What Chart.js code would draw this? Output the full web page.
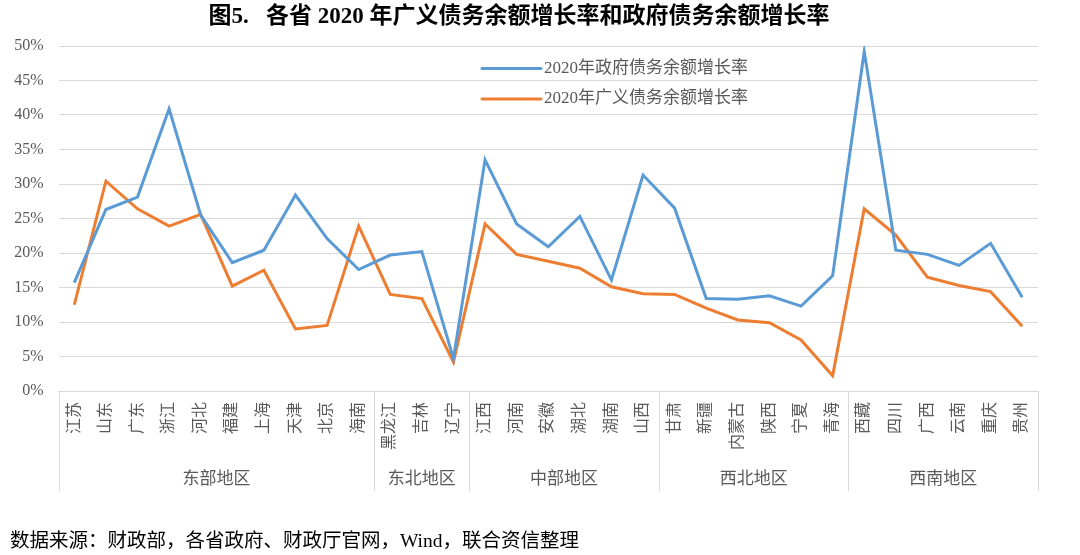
<!DOCTYPE html>
<html>
<head>
<meta charset="utf-8">
<script src="https://cdn.jsdelivr.net/npm/chart.js@4.4.1/dist/chart.umd.min.js"></script>
<style>
html,body{margin:0;padding:0;background:#fff;}
#wrap{width:1080px;height:555px;}
</style>
</head>
<body>
<div id="wrap"><canvas id="c" width="1080" height="555"></canvas></div>
<script>
const titleText = '图5.   各省 2020 年广义债务余额增长率和政府债务余额增长率';
const sourceText = '数据来源：财政部，各省政府、财政厅官网，Wind，联合资信整理';

const provinces = ['江苏','山东','广东','浙江','河北','福建','上海','天津','北京','海南',
  '黑龙江','吉林','辽宁',
  '江西','河南','安徽','湖北','湖南','山西',
  '甘肃','新疆','内蒙古','陕西','宁夏','青海',
  '西藏','四川','广西','云南','重庆','贵州'];

const regionNames = ['东部地区','东北地区','中部地区','西北地区','西南地区'];
const regionSizes = [10, 3, 6, 6, 6];

const seriesNames = ['2020年政府债务余额增长率', '2020年广义债务余额增长率'];

const govGrowth = [15.7, 26.3, 28.1, 40.9, 25.5, 18.6, 20.4, 28.4, 22.1, 17.6,
  19.7, 20.2, 4.7,
  33.5, 24.2, 20.9, 25.3, 16.1, 31.3,
  26.5, 13.4, 13.3, 13.8, 12.3, 16.7,
  49.2, 20.4, 19.8, 18.2, 21.4, 13.6];

const broadGrowth = [12.5, 30.4, 26.4, 23.9, 25.6, 15.2, 17.5, 9.0, 9.5, 23.9,
  14.0, 13.4, 4.2,
  24.2, 19.8, 18.8, 17.8, 15.1, 14.1,
  14.0, 12.0, 10.3, 9.9, 7.4, 2.2,
  26.4, 22.6, 16.5, 15.3, 14.4, 9.4];

const yTicks = [0, 5, 10, 15, 20, 25, 30, 35, 40, 45, 50];

const SERIF = "'Liberation Serif', 'Noto Sans CJK SC', serif";
const GRAY = '#595959';
const GRID = '#d9d9d9';

const groupPlugin = {
  id: 'groups',
  afterDraw(chart) {
    const ctx = chart.ctx;
    const x = chart.scales.x;
    const area = chart.chartArea;
    const top = area.bottom;
    const bottom = area.bottom + 100;
    const half = (x.getPixelForValue(1) - x.getPixelForValue(0)) / 2;
    ctx.save();
    ctx.strokeStyle = GRID;
    ctx.lineWidth = 1;
    let idx = 0;
    const bounds = [x.getPixelForValue(0) - half];
    regionSizes.forEach(n => { idx += n; bounds.push(x.getPixelForValue(idx - 1) + half); });
    bounds.forEach(b => {
      const bx = Math.round(b) + 0.5;
      ctx.beginPath(); ctx.moveTo(bx, top); ctx.lineTo(bx, bottom); ctx.stroke();
    });
    ctx.fillStyle = GRAY;
    ctx.font = "17px " + SERIF;
    ctx.textAlign = 'center';
    ctx.textBaseline = 'middle';
    regionNames.forEach((name, i) => {
      ctx.fillText(name, (bounds[i] + bounds[i + 1]) / 2, area.bottom + 89);
    });
    // source note
    ctx.fillStyle = '#000';
    ctx.font = "19.5px " + SERIF;
    ctx.textAlign = 'left';
    ctx.fillText(sourceText, 10, 542);
    ctx.restore();
  }
};

const legendPlugin = {
  id: 'innerLegend',
  afterDatasetsDraw(chart) {
    const ctx = chart.ctx;
    ctx.save();
    ctx.font = "17px " + SERIF;
    ctx.textBaseline = 'middle';
    ctx.textAlign = 'left';
    chart.data.datasets.forEach((ds, i) => {
      const y = 68.5 + i * 30.5;
      ctx.strokeStyle = ds.borderColor;
      ctx.lineWidth = 3;
      ctx.lineCap = 'round';
      ctx.beginPath(); ctx.moveTo(482, y); ctx.lineTo(541, y); ctx.stroke();
      ctx.fillStyle = GRAY;
      ctx.fillText(ds.label, 544, y);
    });
    ctx.restore();
  }
};

new Chart(document.getElementById('c'), {
  type: 'line',
  data: {
    labels: provinces,
    datasets: [
      { label: seriesNames[0], data: govGrowth, borderColor: '#5B9BD5', backgroundColor: '#5B9BD5',
        borderWidth: 3, pointRadius: 0, tension: 0, fill: false },
      { label: seriesNames[1], data: broadGrowth, borderColor: '#ED7D31', backgroundColor: '#ED7D31',
        borderWidth: 3, pointRadius: 0, tension: 0, fill: false }
    ]
  },
  options: {
    responsive: false,
    animation: false,
    layout: { padding: { left: 0, right: 42, top: 0, bottom: 64 } },
    plugins: {
      legend: { display: false },
      tooltip: { enabled: false },
      title: {
        display: true, text: titleText, color: '#000',
        font: { family: SERIF, size: 23, weight: 'bold', lineHeight: 1.2 },
        padding: { top: 3.2, bottom: 15.2 }
      }
    },
    scales: {
      x: {
        type: 'category',
        offset: true,
        grid: { display: false, drawTicks: false },
        border: { display: true, color: GRID, width: 1 },
        ticks: {
          autoSkip: false, minRotation: 90, maxRotation: 90, padding: 11,
          color: GRAY, font: { family: SERIF, size: 16 }
        },
        afterFit(scale) { scale.height = 100; }
      },
      y: {
        min: 0, max: 50,
        afterBuildTicks(scale) { scale.ticks = yTicks.map(v => ({ value: v })); },
        grid: { color: GRID, lineWidth: 1, drawTicks: false },
        border: { display: false },
        ticks: {
          padding: 15, color: GRAY, font: { family: SERIF, size: 16 },
          callback: v => v + '%'
        },
        afterFit(scale) { scale.width = 58.5; }
      }
    }
  },
  plugins: [groupPlugin, legendPlugin]
});
</script>
</body>
</html>
